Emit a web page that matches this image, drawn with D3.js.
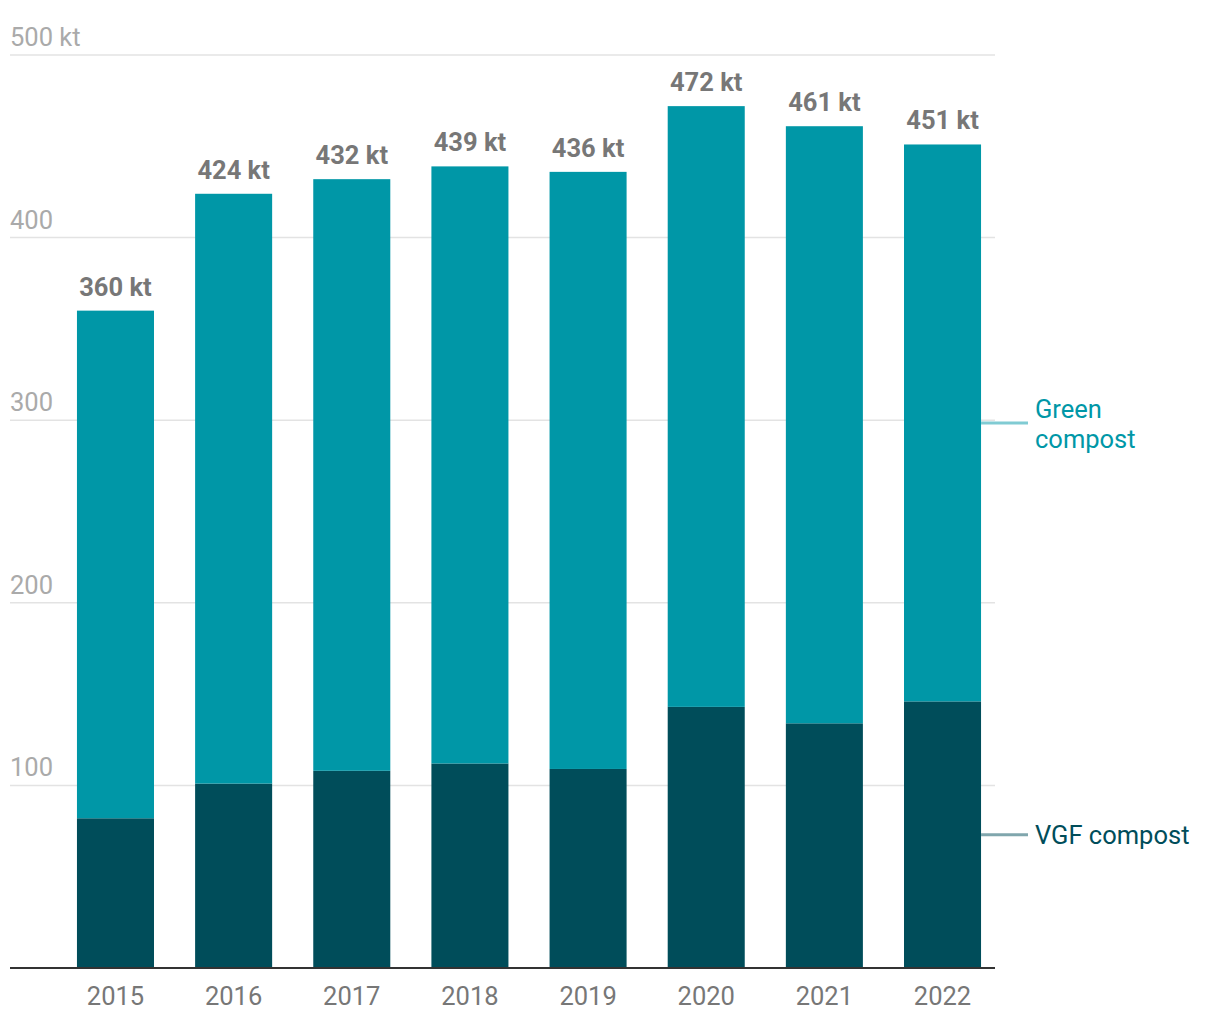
<!DOCTYPE html>
<html><head><meta charset="utf-8">
<script src="https://cdn.jsdelivr.net/npm/d3@7"></script>
<style>
body{margin:0;background:#fff;}
text{font-family:Roboto,"Noto Sans",sans-serif;}
</style></head>
<body><svg id="chart" width="1220" height="1020"></svg>
<script>
const years = ["2015","2016","2017","2018","2019","2020","2021","2022"];
const vgf = [82, 101, 108, 112, 109, 143, 134, 146];
const totals = [360, 424, 432, 439, 436, 472, 461, 451];
const green = totals.map((t, i) => t - vgf[i]);
const yTicks = [100, 200, 300, 400, 500];
const seriesNames = ["VGF compost", "Green compost"];

const FS = 25.5;
const svg = d3.select("#chart");
const x = d3.scaleBand().domain(years).range([56.4, 1001.6]).paddingInner(0.348).paddingOuter(0.174);
const y = d3.scaleLinear().domain([0, 500]).range([968, 55]);

// gridlines
svg.append("g").selectAll("line").data(yTicks).join("line")
  .attr("x1", 10).attr("x2", 995)
  .attr("y1", d => y(d)).attr("y2", d => y(d))
  .attr("stroke", "#e3e3e3").attr("stroke-width", 1.5);
svg.append("g").selectAll("text").data(yTicks).join("text")
  .attr("x", 10).attr("y", d => y(d) - 9)
  .attr("fill", "#aaaaaa").attr("font-size", FS)
  .text(d => d === 500 ? d + " kt" : d);

const data = years.map((yr, i) => ({year: yr, vgf: vgf[i], green: green[i], total: totals[i]}));
const stack = d3.stack().keys(["vgf", "green"])(data);
const colors = {vgf: "#004d5a", green: "#0097a7"};

svg.append("g").selectAll("g").data(stack).join("g")
  .attr("fill", s => colors[s.key])
  .selectAll("rect").data(s => s).join("rect")
  .attr("x", d => x(d.data.year)).attr("width", x.bandwidth())
  .attr("y", d => y(d[1])).attr("height", d => y(d[0]) - y(d[1]));

// baseline
svg.append("line").attr("x1", 10).attr("x2", 995).attr("y1", y(0)).attr("y2", y(0))
  .attr("stroke", "#333").attr("stroke-width", 2);

// value labels
svg.append("g").selectAll("text").data(data).join("text")
  .attr("x", d => x(d.year) + x.bandwidth() / 2).attr("y", d => y(d.total) - 15)
  .attr("text-anchor", "middle").attr("font-size", FS).attr("font-weight", 700)
  .attr("fill", "#777777").text(d => d.total + " kt");

// year labels
svg.append("g").selectAll("text").data(years).join("text")
  .attr("x", d => x(d) + x.bandwidth() / 2).attr("y", 1005)
  .attr("text-anchor", "middle").attr("font-size", FS).attr("fill", "#777777")
  .text(d => d);

// legend
const last = data[data.length - 1];
const lx0 = x(last.year) + x.bandwidth();
const gy = y(last.vgf + last.green / 2);
const vy = y(last.vgf / 2);
svg.append("line").attr("x1", lx0).attr("x2", 1028).attr("y1", gy).attr("y2", gy)
  .attr("stroke", "#80cbd3").attr("stroke-width", 3);
svg.append("line").attr("x1", lx0).attr("x2", 1028).attr("y1", vy).attr("y2", vy)
  .attr("stroke", "#80a6ad").attr("stroke-width", 3);
const gt = svg.append("text").attr("x", 1035).attr("y", gy - 5).attr("font-size", FS).attr("fill", "#0097a7");
gt.append("tspan").attr("x", 1035).text("Green");
gt.append("tspan").attr("x", 1035).attr("dy", 30).text("compost");
svg.append("text").attr("x", 1035).attr("y", vy + 9).attr("font-size", FS).attr("fill", "#004d5a")
  .text(seriesNames[0]);
</script></body></html>
